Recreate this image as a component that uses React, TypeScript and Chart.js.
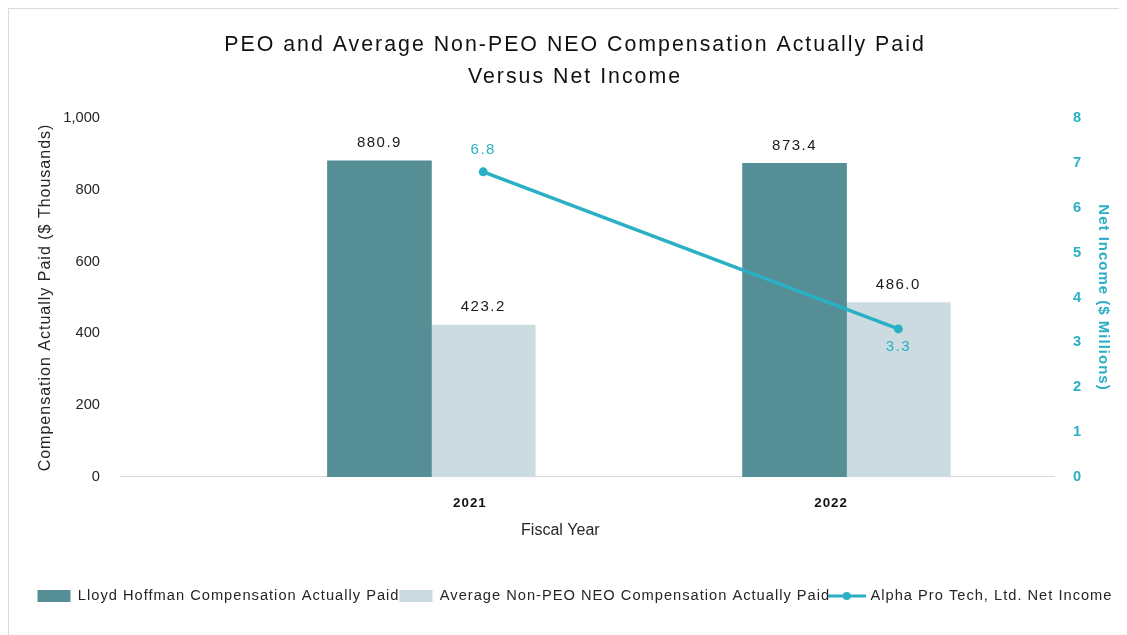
import React, { useEffect, useRef } from 'react';
import { Chart, registerables } from 'chart.js';

Chart.register(...registerables);

// ---- Data ----
const years = [2021, 2022];
const tickLabels = ['2021', '2022'];
const peoCap = [880.9, 873.4];
const neoCap = [423.2, 486.0];
const netIncome = [6.8, 3.3];
const seriesLabels = [
  'Lloyd Hoffman Compensation Actually Paid',
  'Average Non-PEO NEO Compensation Actually Paid',
  'Alpha Pro Tech, Ltd. Net Income',
];
const titleLines = ['PEO and Average Non-PEO NEO Compensation Actually Paid', 'Versus Net Income'];

// ---- Styles ----
const FONT = "'Liberation Sans', Arial, Helvetica, sans-serif";
const DARK = '#568E96';
const LIGHT = '#CCDBDF';
const TEAL = '#2AB0C4';
const TEXT = '#262626';

function makeLineLegendIcon(): HTMLCanvasElement {
  const c = document.createElement('canvas');
  c.width = 38;
  c.height = 12;
  const g = c.getContext('2d')!;
  g.strokeStyle = TEAL;
  g.lineWidth = 3;
  g.beginPath();
  g.moveTo(0, 6);
  g.lineTo(38, 6);
  g.stroke();
  g.fillStyle = TEAL;
  g.beginPath();
  g.arc(19, 6, 4, 0, Math.PI * 2);
  g.fill();
  return c;
}

// wrap a drawing/measuring method so it runs with a given letter spacing
function wrapSpacing(obj: any, method: string, spacing: string) {
  if (!obj || obj['__ls_' + method]) return;
  const orig = obj[method];
  obj['__ls_' + method] = true;
  obj[method] = function (...args: any[]) {
    const ctx = this.ctx as any;
    const prev = ctx.letterSpacing;
    ctx.letterSpacing = spacing;
    try {
      return orig.apply(this, args);
    } finally {
      ctx.letterSpacing = prev;
    }
  };
}

const spacingPlugin = {
  id: 'spacingPlugin',
  beforeLayout(chart: any) {
    wrapSpacing(chart.titleBlock, 'draw', '2px');
    wrapSpacing(chart.legend, 'fit', '1px');
    wrapSpacing(chart.legend, 'draw', '1px');
    wrapSpacing(chart.scales.x, 'drawLabels', '1px');
    wrapSpacing(chart.scales.y, 'drawTitle', '1px');
    wrapSpacing(chart.scales.y1, 'drawTitle', '1px');
  },
};

const valueLabels = {
  id: 'valueLabels',
  afterDatasetsDraw(chart: any, _args: any, opts: any) {
    const ctx = chart.ctx as CanvasRenderingContext2D;
    ctx.save();
    ctx.font = `15px ${FONT}`;
    (ctx as any).letterSpacing = '1.5px';
    ctx.textAlign = 'center';
    ctx.textBaseline = 'middle';
    chart.data.datasets.forEach((ds: any, di: number) => {
      const meta = chart.getDatasetMeta(di);
      meta.data.forEach((el: any, i: number) => {
        const v = ds.data[i].y as number;
        const txt = v.toFixed(1);
        if (ds.type === 'line') {
          ctx.fillStyle = TEAL;
          ctx.fillText(txt, el.x, el.y + opts.lineOffsets[i]);
        } else {
          ctx.fillStyle = '#1A1A1A';
          ctx.fillText(txt, el.x, el.y - opts.barOffset);
        }
      });
    });
    ctx.restore();
  },
};

export default function App() {
  const ref = useRef<HTMLCanvasElement>(null);

  useEffect(() => {
    document.documentElement.style.overflow = 'hidden';
    document.body.style.overflow = 'hidden';
    const lineIcon = makeLineLegendIcon();
    const chart = new Chart(ref.current!, {
      type: 'bar',
      data: {
        datasets: [
          {
            type: 'bar',
            label: seriesLabels[0],
            data: years.map((x, i) => ({ x, y: peoCap[i] })),
            backgroundColor: DARK,
            barThickness: 104,
            grouped: false,
            xAxisID: 'xPeo',
            yAxisID: 'y',
            order: 1,
          },
          {
            type: 'bar',
            label: seriesLabels[1],
            data: years.map((x, i) => ({ x, y: neoCap[i] })),
            backgroundColor: LIGHT,
            barThickness: 104,
            grouped: false,
            xAxisID: 'xNeo',
            yAxisID: 'y',
            order: 1,
          },
          {
            type: 'line',
            label: seriesLabels[2],
            data: years.map((x, i) => ({ x, y: netIncome[i] })),
            borderColor: TEAL,
            backgroundColor: TEAL,
            borderWidth: 3.5,
            pointRadius: 4.5,
            pointBackgroundColor: TEAL,
            pointBorderWidth: 0,
            xAxisID: 'xNeo',
            yAxisID: 'y1',
            order: 0,
          },
        ] as any,
      },
      options: {
        animation: false,
        responsive: false,
        devicePixelRatio: 1,
        layout: { padding: { top: 0, bottom: 21.7, left: 14, right: 0 } },
        scales: {
          x: {
            type: 'linear',
            position: 'bottom',
            offset: false,
            min: 2020.25,
            max: 2022.5,
            grid: { display: false, drawTicks: false },
            border: { display: true, color: '#D9D9D9', width: 1 },
            afterBuildTicks: (s: any) => {
              s.ticks = [2021.093, 2021.963].map((value) => ({ value }));
            },
            ticks: {
              padding: 18,
              autoSkip: false,
              maxRotation: 0,
              color: '#111111',
              font: { family: FONT, size: 13.33, weight: 'bold' },
              callback: (_v: any, i: number) => tickLabels[i] ?? '',
            },
            title: {
              display: true,
              text: 'Fiscal Year' + '\u00A0'.repeat(12),
              color: TEXT,
              font: { family: FONT, size: 16 },
              padding: { top: 0, bottom: 48 },
            },
            afterFit: (s: any) => {
              s.height = 111.67;
            },
          },
          xPeo: {
            type: 'linear',
            display: false,
            offset: false,
            min: 2020.375,
            max: 2022.625,
          },
          xNeo: {
            type: 'linear',
            display: false,
            offset: false,
            min: 2020.125,
            max: 2022.375,
          },
          y: {
            position: 'left',
            min: 0,
            max: 1000,
            grid: { display: false, drawTicks: false },
            border: { display: false },
            ticks: {
              stepSize: 200,
              padding: 20,
              color: TEXT,
              font: { family: FONT, size: 14.67 },
            },
            title: {
              display: true,
              text: 'Compensation Actually Paid ($ Thousands)',
              color: TEXT,
              font: { family: FONT, size: 16 },
              padding: { top: 13, bottom: 0 },
            },
            afterFit: (s: any) => {
              s.width = 97;
            },
          },
          y1: {
            position: 'right',
            min: 0,
            max: 8,
            grid: { display: false, drawTicks: false },
            border: { display: false },
            ticks: {
              stepSize: 1,
              padding: 19,
              color: TEAL,
              font: { family: FONT, size: 14.67, weight: 'bold' },
            },
            title: {
              display: true,
              text: 'Net Income ($ Millions)',
              color: TEAL,
              font: { family: FONT, size: 15, weight: 'bold' },
              padding: { top: 15, bottom: 0 },
            },
            afterFit: (s: any) => {
              s.width = 73;
            },
          },
        },
        plugins: {
          title: {
            display: true,
            text: titleLines,
            color: '#111111',
            font: { family: FONT, size: 21.33, weight: 'normal', lineHeight: 1.5 },
            padding: { top: 20, bottom: 25 },
          },
          legend: {
            position: 'bottom',
            labels: {
              usePointStyle: true,
              pointStyleWidth: 33,
              boxHeight: 12,
              padding: 0,
              color: TEXT,
              font: { family: FONT, size: 14.67 },
              sort: (a: any, b: any) => a.datasetIndex - b.datasetIndex,
              generateLabels: (chart: any) => {
                const items = Chart.defaults.plugins.legend.labels.generateLabels(chart);
                return items.map((it: any) => {
                  const ds = chart.data.datasets[it.datasetIndex];
                  if (ds.type === 'line') {
                    it.pointStyle = lineIcon;
                  } else {
                    it.pointStyle = 'rect';
                    it.lineWidth = 0;
                  }
                  return it;
                });
              },
            },
          },
          tooltip: { enabled: false },
          valueLabels: { barOffset: 18, lineOffsets: [-22, 18] },
        } as any,
      },
      plugins: [spacingPlugin, valueLabels],
    });
    return () => chart.destroy();
  }, []);

  return (
    <div
      style={{
        width: 1119,
        height: 627,
        boxSizing: 'border-box',
        borderTop: '1px solid #D9DDE2',
        borderLeft: '1px solid #D9DDE2',
        background: '#FFFFFF',
      }}
    >
      <canvas ref={ref} width={1118} height={626} style={{ display: 'block', width: 1118, height: 626 }} />
    </div>
  );
}
